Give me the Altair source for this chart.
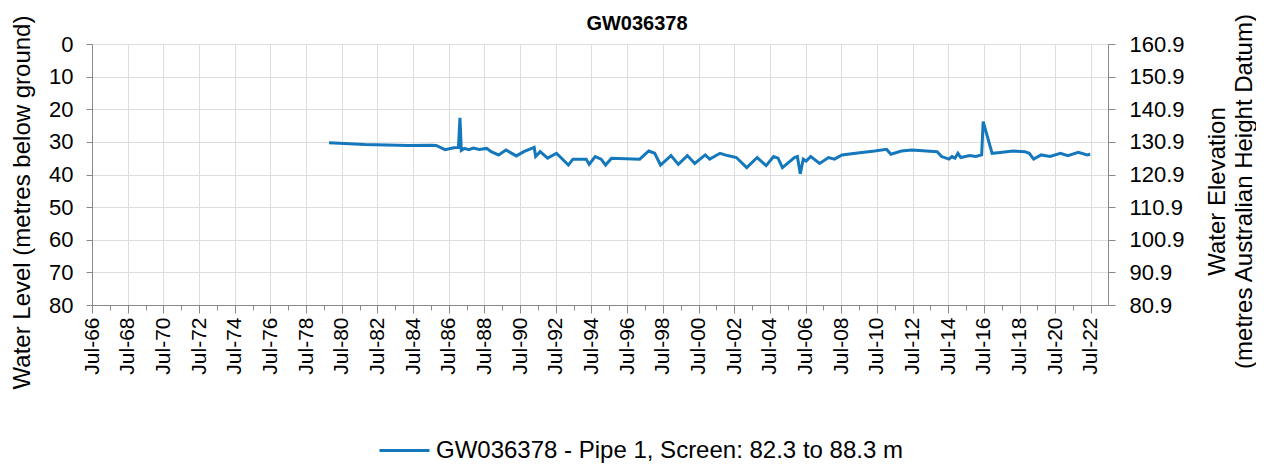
import altair as alt
import pandas as pd

# ---- data ----
dates = [
    "1979-10-15", "1981-10-15", "1984-03-15", "1985-07-15", "1985-10-15", "1986-04-15",
    "1986-10-15", "1987-01-15", "1987-02-15", "1987-03-15", "1987-05-15", "1987-08-15",
    "1987-11-15", "1988-03-15", "1988-08-15", "1988-11-15", "1989-04-15", "1989-09-15",
    "1990-04-15", "1990-09-15", "1991-04-15", "1991-05-15", "1991-08-15", "1992-01-15",
    "1992-07-15", "1993-03-15", "1993-06-15", "1994-03-15", "1994-05-15", "1994-09-15",
    "1995-01-15", "1995-04-15", "1995-08-15", "1997-03-15", "1997-09-15", "1998-01-15",
    "1998-05-15", "1998-12-15", "1999-05-15", "1999-11-15", "2000-04-15", "2000-11-15",
    "2001-02-15", "2001-09-15", "2002-02-15", "2002-08-15", "2003-03-15", "2003-10-15",
    "2004-04-15", "2004-09-15", "2004-12-15", "2005-03-15", "2005-11-15", "2006-01-15",
    "2006-03-15", "2006-05-15", "2006-07-15", "2006-10-15", "2007-04-15", "2007-10-15",
    "2008-02-15", "2008-07-15", "2009-07-15", "2010-05-15", "2011-01-15", "2011-04-15",
    "2011-11-15", "2012-06-15", "2013-11-15", "2014-02-15", "2014-07-15", "2014-09-15",
    "2014-11-15", "2015-01-15", "2015-03-15", "2015-09-15", "2016-01-15", "2016-05-15",
    "2016-06-15", "2016-12-15", "2017-04-15", "2018-02-15", "2018-10-15", "2019-01-15",
    "2019-04-15", "2019-09-15", "2020-03-15", "2020-10-15", "2021-03-15", "2021-10-15",
    "2022-04-15", "2022-06-15",
]
depth = [
    30.3, 30.8, 31.1, 31.0, 31.1, 32.4,
    31.8, 31.7, 22.6, 32.6, 32.0, 32.4,
    31.9, 32.3, 32.0, 33.0, 34.0, 32.5,
    34.3, 33.0, 31.7, 34.5, 33.0, 35.0,
    33.5, 37.1, 35.3, 35.3, 36.9, 34.5,
    35.3, 37.1, 35.0, 35.3, 32.8, 33.5,
    37.1, 34.2, 36.9, 34.2, 36.6, 34.0,
    35.3, 33.5, 34.2, 34.8, 37.9, 34.8,
    37.3, 34.5, 35.0, 37.9, 34.8, 34.5,
    39.8, 35.3, 35.9, 34.5, 36.6, 34.8,
    35.3, 34.0, 33.3, 32.8, 32.3, 33.8,
    32.8, 32.5, 33.0, 34.5, 35.3, 34.5,
    35.0, 33.5, 34.8, 34.2, 34.5, 34.0,
    23.8, 33.5, 33.3, 32.8, 33.0, 33.5,
    35.3, 34.0, 34.5, 33.5, 34.2, 33.2,
    34.0, 33.8,
]
series_name = "GW036378 - Pipe 1, Screen: 82.3 to 88.3 m"
chart_title = "GW036378"
left_title = "Water Level (metres below ground)"
right_title = ["Water Elevation", "(metres Australian Height Datum)"]
depth_ticks = [0, 10, 20, 30, 40, 50, 60, 70, 80]
elev_ticks = [80.9, 90.9, 100.9, 110.9, 120.9, 130.9, 140.9, 150.9, 160.9]
ground_elev = 160.9
major_years = list(range(1966, 2023, 2))
minor_years = list(range(1967, 2023, 2))

df = pd.DataFrame({
    "date": [d + "T00:00:00" for d in dates],
    "depth": depth,
    "series": [series_name] * len(dates),
})

FONT = "Liberation Sans"
GREY = "#898989"
x_dom = [alt.DateTime(year=1966, month=7, date=1), alt.DateTime(year=2023, month=6, date=15)]
major = [alt.DateTime(year=y, month=7, date=1) for y in major_years]
minor = [alt.DateTime(year=y, month=7, date=1) for y in minor_years]

base = alt.Chart(df)

level = base.mark_line(strokeWidth=3, interpolate="linear").encode(
    x=alt.X("date:T", scale=alt.Scale(domain=x_dom),
            axis=alt.Axis(values=major, format="%b-%y", labelAngle=-90, title=None,
                          tickSize=8, labelPadding=4, labelFontSize=21, grid=True,
                          orient="bottom")),
    y=alt.Y("depth:Q", scale=alt.Scale(domain=[0, 80], reverse=True, nice=False, zero=False),
            axis=alt.Axis(values=depth_ticks, title=left_title, orient="left",
                          tickSize=6, labelPadding=13, labelFontSize=22, grid=True,
                          titleFontSize=24, titleFontWeight="normal", titleAngle=270,
                          titleX=-82, titleY=158,
                          titleBaseline="top", titleAlign="center")),
    color=alt.Color("series:N", scale=alt.Scale(range=["#1578bc"]),
                    legend=alt.Legend(orient="none", legendX=286, legendY=380, title=None,
                                      symbolType="stroke", symbolSize=2500,
                                      symbolStrokeWidth=3, labelFontSize=24,
                                      labelFont=FONT, labelColor="black", labelLimit=0,
                                      labelOffset=5, padding=0)),
)

elev = base.transform_calculate(elev=f"{ground_elev} - datum.depth").mark_line(opacity=0).encode(
    x=alt.X("date:T", scale=alt.Scale(domain=x_dom),
            axis=alt.Axis(values=minor, labels=False, title=None, tickSize=5,
                          grid=False, domain=False, orient="bottom")),
    y=alt.Y("elev:Q", scale=alt.Scale(domain=[80.9, 160.9], nice=False, zero=False),
            axis=alt.Axis(values=elev_ticks, format=".1f", title=right_title, orient="right",
                          tickSize=7, labelPadding=14, labelFontSize=22, grid=False,
                          titleFontSize=24, titleFontWeight="normal", titleAngle=270,
                          titleX=97, titleY=147,
                          titleBaseline="top", titleAlign="center", titleLineHeight=27)),
)

chart = alt.layer(level, elev).resolve_scale(y="independent").resolve_axis(
    x="independent", y="independent"
).properties(
    width=1016, height=261,
    autosize=alt.AutoSizeParams(type="none"),
    padding={"left": 84, "top": 36, "right": 148, "bottom": 158},
    title=alt.TitleParams(chart_title, fontSize=20, fontWeight="bold", font=FONT,
                          offset=14, dx=37, dy=35, anchor="middle", color="black"),
).configure_view(
    stroke=GREY, strokeWidth=2.5
).configure_axis(
    domainColor=GREY, domainWidth=2.5, tickColor=GREY, tickWidth=1.5,
    gridColor="#d9d9d9", gridWidth=1.3, labelColor="black", titleColor="black",
    labelFont=FONT, titleFont=FONT, titleFontWeight="normal"
).configure(background="white")

chart.save("out.html", embed_options={"renderer": "svg", "actions": False})
